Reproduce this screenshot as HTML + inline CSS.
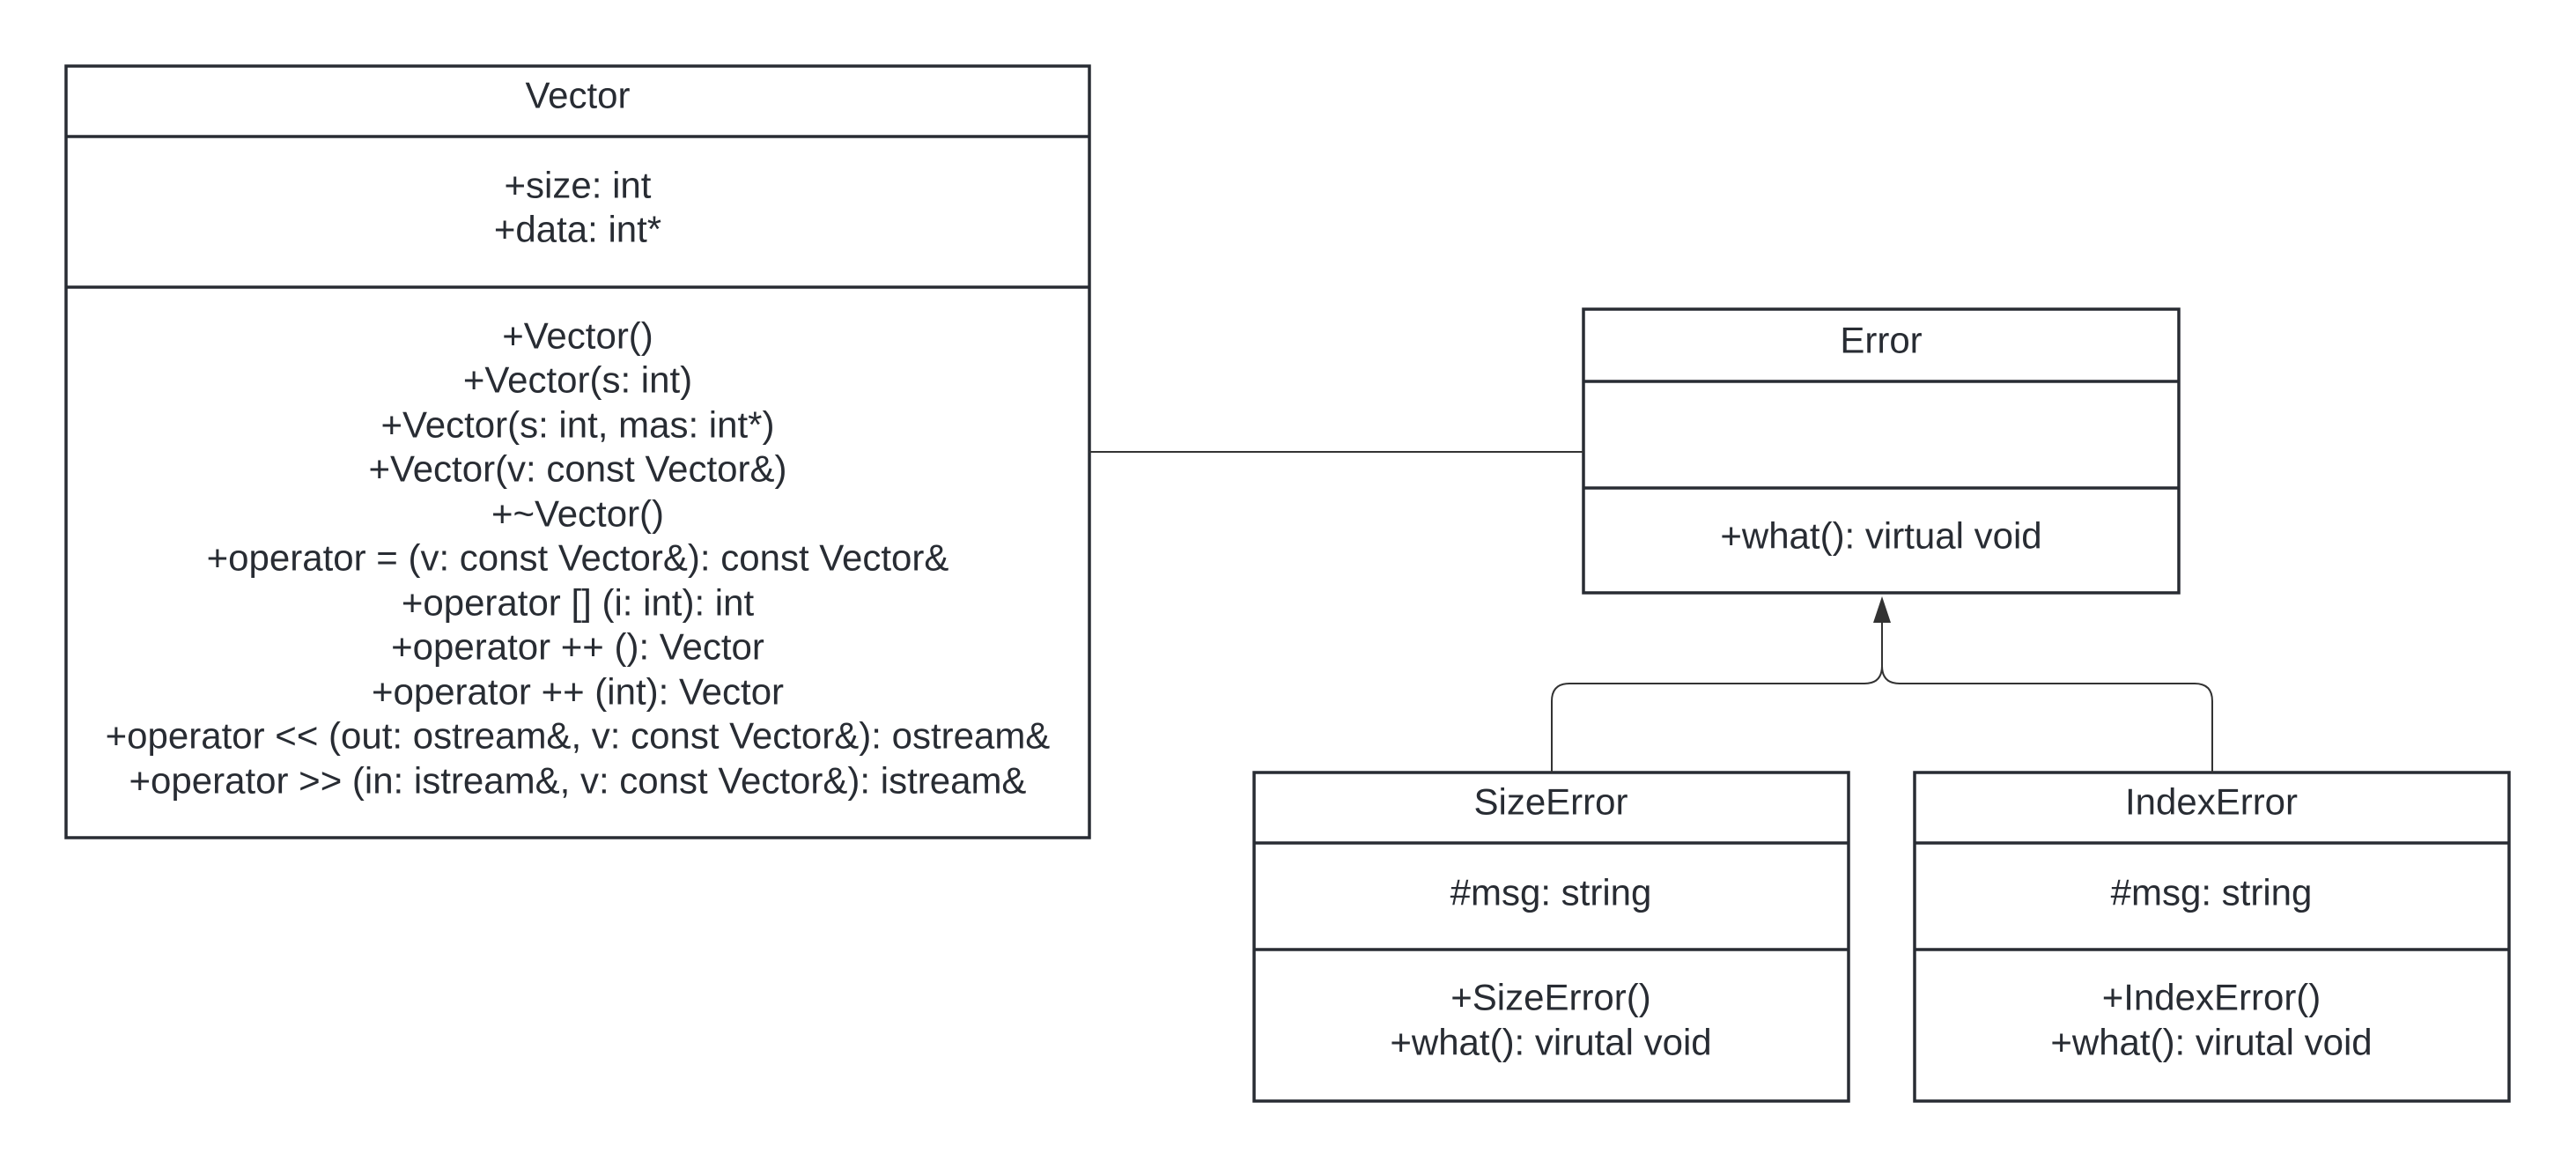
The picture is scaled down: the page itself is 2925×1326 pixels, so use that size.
<!DOCTYPE html>
<html><head><meta charset="utf-8"><style>
html,body{margin:0;padding:0;background:#fff;}
svg{display:block;}
text{font-family:"Liberation Sans",sans-serif;font-size:42px;fill:#282c33;text-anchor:middle;dominant-baseline:central;}
</style></head><body>
<svg width="2925" height="1326" viewBox="0 0 2925 1326" xmlns="http://www.w3.org/2000/svg">
<g fill="none" stroke="#282c33" stroke-width="3.5">
<rect x="75" y="75" width="1162" height="876"/>
<line x1="75" y1="155" x2="1237" y2="155"/>
<line x1="75" y1="326" x2="1237" y2="326"/>
<rect x="1798" y="351" width="676" height="322"/>
<line x1="1798" y1="433" x2="2474" y2="433"/>
<line x1="1798" y1="554" x2="2474" y2="554"/>
<rect x="1424" y="877" width="675" height="373"/>
<line x1="1424" y1="957" x2="2099" y2="957"/>
<line x1="1424" y1="1078" x2="2099" y2="1078"/>
<rect x="2174" y="877" width="675" height="373"/>
<line x1="2174" y1="957" x2="2849" y2="957"/>
<line x1="2174" y1="1078" x2="2849" y2="1078"/>
</g>
<g fill="none" stroke="#333" stroke-width="2">
<line x1="1237" y1="513" x2="1798" y2="513"/>
<path d="M1762 877 V796 Q1762 776 1782 776 H2117 Q2137 776 2137 756 V705"/>
<path d="M2512 877 V796 Q2512 776 2492 776 H2157 Q2137 776 2137 756"/>
</g>
<polygon points="2137,677 2127,707 2147,707" fill="#333"/>
<text x="656" y="108">Vector</text>
<text x="656" y="210">+size: int</text>
<text x="656" y="260">+data: int*</text>
<text x="656" y="381">+Vector()</text>
<text x="656" y="431">+Vector(s: int)</text>
<text x="656" y="482">+Vector(s: int, mas: int*)</text>
<text x="656" y="532">+Vector(v: const Vector&amp;)</text>
<text x="656" y="583">+~Vector()</text>
<text x="656" y="633">+operator = (v: const Vector&amp;): const Vector&amp;</text>
<text x="656" y="684">+operator [] (i: int): int</text>
<text x="656" y="734">+operator ++ (): Vector</text>
<text x="656" y="785">+operator ++ (int): Vector</text>
<text x="656" y="835">+operator &lt;&lt; (out: ostream&amp;, v: const Vector&amp;): ostream&amp;</text>
<text x="656" y="886">+operator &gt;&gt; (in: istream&amp;, v: const Vector&amp;): istream&amp;</text>
<text x="2136" y="386">Error</text>
<text x="2136" y="608">+what(): virtual void</text>
<text x="1761" y="910">SizeError</text>
<text x="1761" y="1013">#msg: string</text>
<text x="1761" y="1132">+SizeError()</text>
<text x="1761" y="1183">+what(): virutal void</text>
<text x="2511" y="910">IndexError</text>
<text x="2511" y="1013">#msg: string</text>
<text x="2511" y="1132">+IndexError()</text>
<text x="2511" y="1183">+what(): virutal void</text>
</svg>
</body></html>
